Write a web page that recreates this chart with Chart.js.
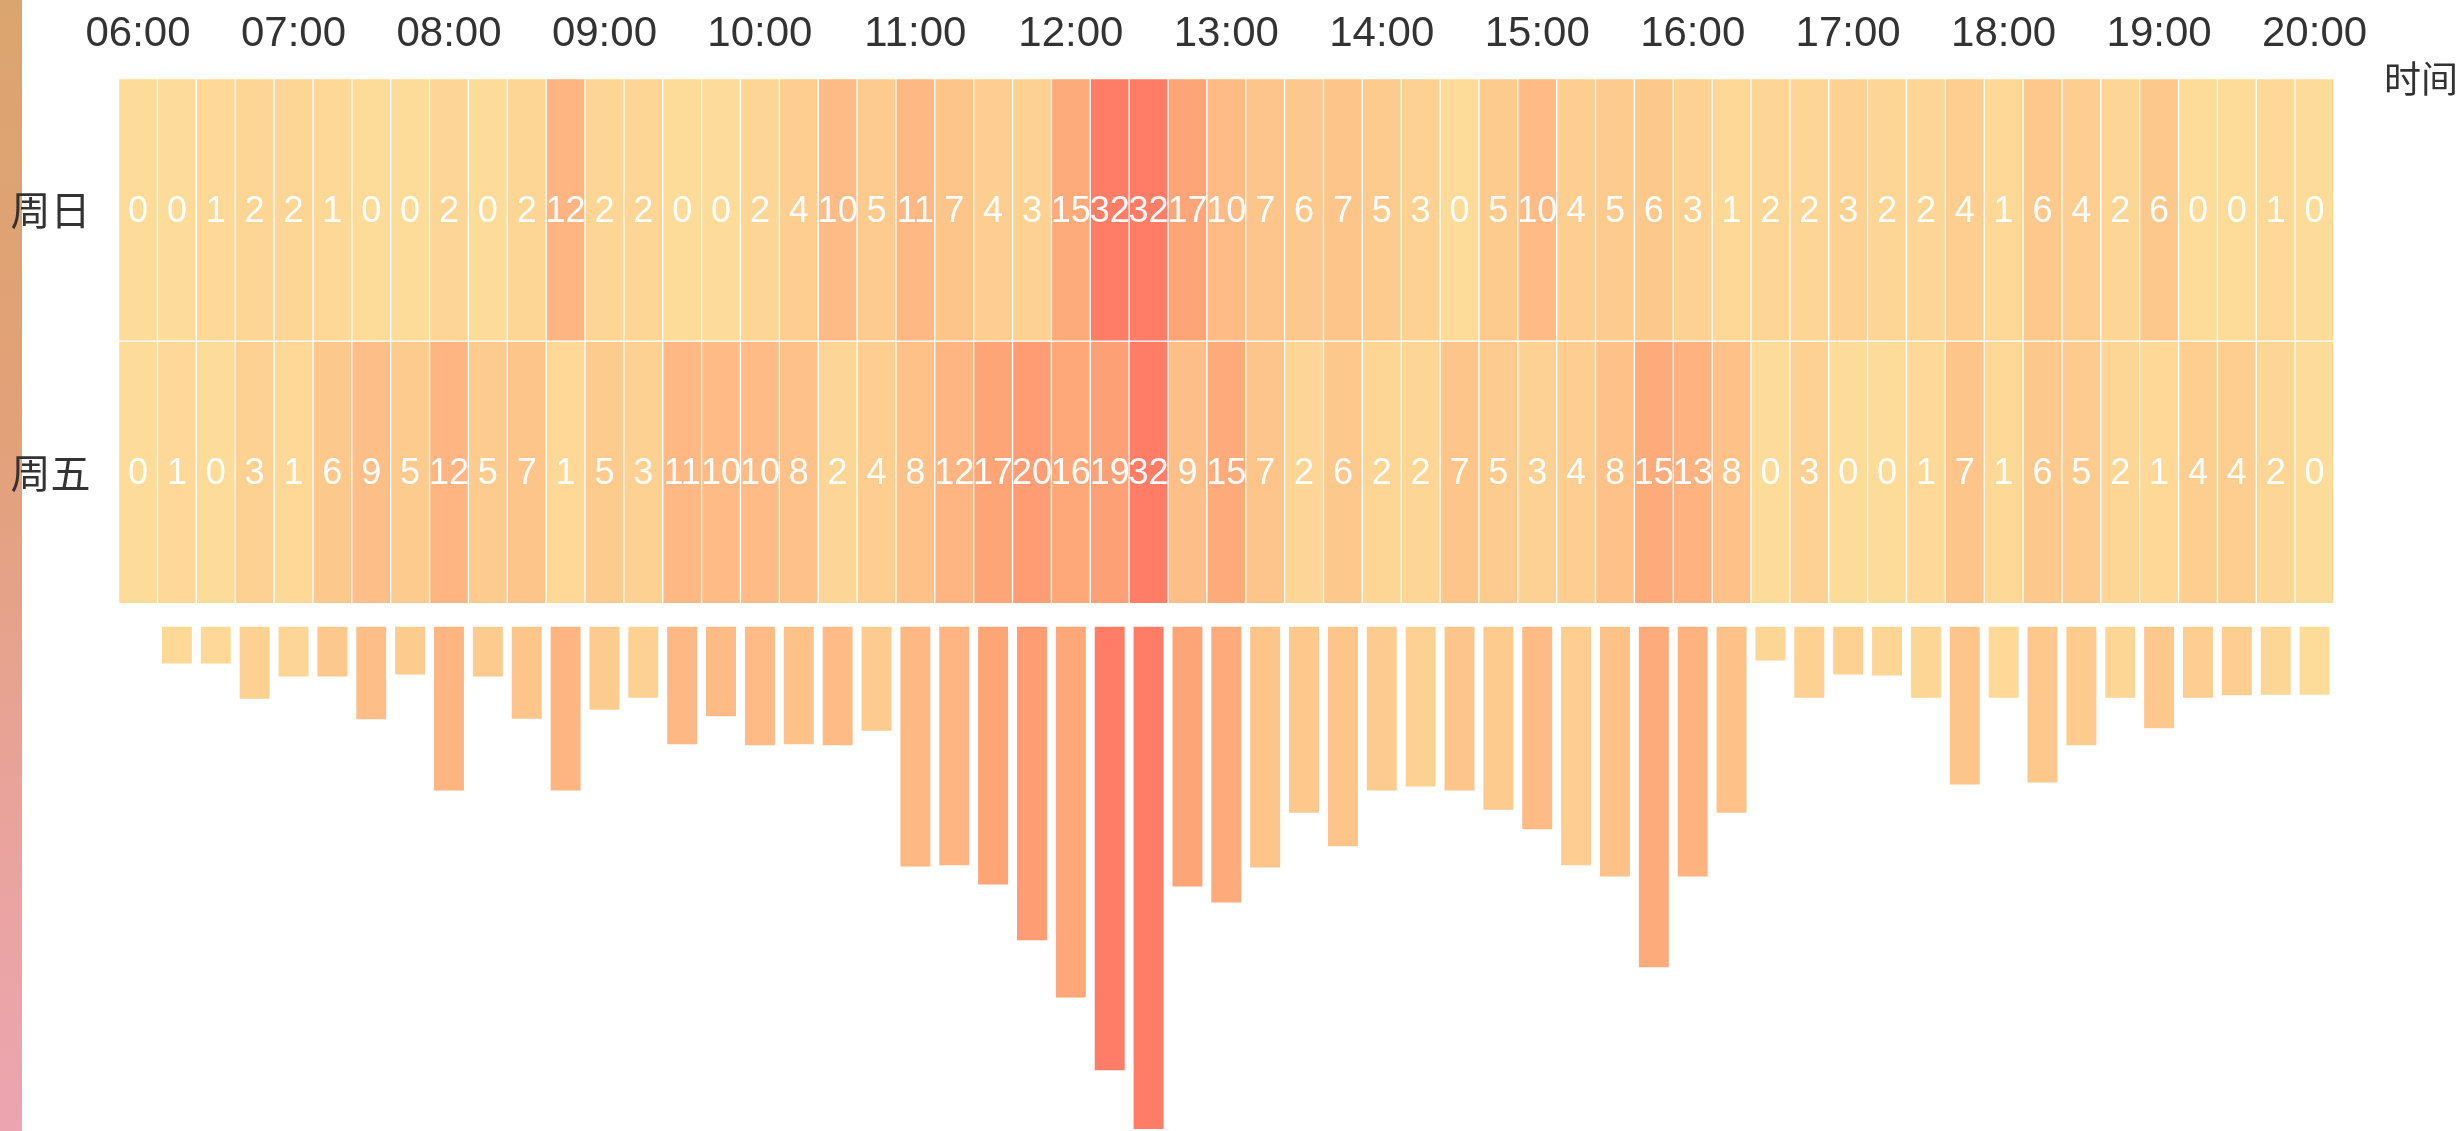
<!DOCTYPE html>
<html lang="zh-CN">
<head>
<meta charset="utf-8">
<title>时段热力图</title>
<script src="https://cdn.jsdelivr.net/npm/chart.js@4.4.1/dist/chart.umd.min.js"></script>
<style>
    html, body { margin: 0; padding: 0; background: #fff; }
    #wrap { position: relative; width: 2463px; height: 1131px; overflow: hidden; }
    #strip {
        position: absolute; left: 0; top: 0; width: 22px; height: 1131px;
        background: linear-gradient(180deg, #dba56f 0%, #e2a176 35%, #e9a39a 70%, #eca5b0 100%);
    }
    #heat { position: absolute; left: 0; top: 0; }
</style>
</head>
<body>
<div id="wrap">
    <div id="strip"></div>
    <canvas id="heat"></canvas>
</div>
<script>
// ================================================================
// DATA
// ================================================================

// 15-minute slots, 06:00 - 20:00
const timeSlots = [
    '06:00', '06:15', '06:30', '06:45', '07:00', '07:15', '07:30', '07:45',
    '08:00', '08:15', '08:30', '08:45', '09:00', '09:15', '09:30', '09:45',
    '10:00', '10:15', '10:30', '10:45', '11:00', '11:15', '11:30', '11:45',
    '12:00', '12:15', '12:30', '12:45', '13:00', '13:15', '13:30', '13:45',
    '14:00', '14:15', '14:30', '14:45', '15:00', '15:15', '15:30', '15:45',
    '16:00', '16:15', '16:30', '16:45', '17:00', '17:15', '17:30', '17:45',
    '18:00', '18:15', '18:30', '18:45', '19:00', '19:15', '19:30', '19:45',
    '20:00'
];

const rowLabels = ['周日', '周五'];

const sundayCounts = [
    0, 0, 1, 2, 2, 1, 0, 0, 2, 0, 2, 12, 2, 2, 0, 0, 2, 4, 10, 5,
    11, 7, 4, 3, 15, 32, 32, 17, 10, 7, 6, 7, 5, 3, 0, 5, 10, 4, 5, 6,
    3, 1, 2, 2, 3, 2, 2, 4, 1, 6, 4, 2, 6, 0, 0, 1, 0
];

const fridayCounts = [
    0, 1, 0, 3, 1, 6, 9, 5, 12, 5, 7, 1, 5, 3, 11, 10, 10, 8, 2, 4,
    8, 12, 17, 20, 16, 19, 32, 9, 15, 7, 2, 6, 2, 2, 7, 5, 3, 4, 8, 15,
    13, 8, 0, 3, 0, 0, 1, 7, 1, 6, 5, 2, 1, 4, 4, 2, 0
];

// hanging bars under the matrix (max = 100)
const barValues = [
    0, 7.3, 7.3, 14.3, 9.9, 9.9, 18.4, 9.5, 32.6, 9.9,
    18.3, 32.6, 16.5, 14.1, 23.4, 17.8, 23.6, 23.4, 23.6, 20.7,
    47.7, 47.5, 51.3, 62.4, 73.8, 88.3, 100, 51.7, 54.9, 47.9,
    37.0, 43.7, 32.6, 31.8, 32.6, 36.4, 40.3, 47.5, 49.7, 67.8,
    49.7, 37.0, 6.7, 14.1, 9.5, 9.7, 14.1, 31.4, 14.1, 31.0,
    23.6, 14.1, 20.2, 14.1, 13.6, 13.5, 13.5
];

const heatRows = [sundayCounts, fridayCounts];

// ================================================================
// COLORS
// ================================================================

const HEAT_STOPS = [
    [0, [253, 219, 152]],
    [16, [254, 168, 121]],
    [32, [255, 125, 102]]
];

function heatColor(v) {
    for (let i = 1; i < HEAT_STOPS.length; i++) {
        const [v0, c0] = HEAT_STOPS[i - 1];
        const [v1, c1] = HEAT_STOPS[i];
        if (v <= v1 || i === HEAT_STOPS.length - 1) {
            const t = Math.max(0, Math.min(1, (v - v0) / (v1 - v0)));
            const c = c0.map((x, k) => Math.round(x + (c1[k] - x) * t));
            return `rgb(${c[0]},${c[1]},${c[2]})`;
        }
    }
}

const LATIN = '"Liberation Sans", Arial, Helvetica, sans-serif';
const CJK = '"Noto Sans CJK SC", "Noto Sans", sans-serif';

// ================================================================
// PLUGIN: numbers in cells + axis name
// ================================================================

const cellLabels = {
    id: 'cellLabels',
    afterDatasetsDraw(chart) {
        const ctx = chart.ctx;
        ctx.save();
        ctx.font = `36px ${LATIN}`;
        ctx.fillStyle = 'rgba(255,255,255,0.96)';
        ctx.textAlign = 'center';
        ctx.textBaseline = 'middle';
        heatRows.forEach((values, di) => {
            const meta = chart.getDatasetMeta(di);
            meta.data.forEach((bar, i) => {
                ctx.fillText(String(values[i]), bar.x, (bar.y + bar.base) / 2 + 2);
            });
        });

        ctx.font = `37px ${CJK}`;
        ctx.fillStyle = '#333';
        ctx.textAlign = 'left';
        ctx.fillText('时间', chart.chartArea.right + 50, chart.chartArea.top);
        ctx.restore();
    }
};

// ================================================================
// CHART
// ================================================================

const cellStyle = {
    type: 'bar',
    yAxisID: 'y',
    grouped: false,
    barPercentage: 1,
    categoryPercentage: 1,
    borderColor: '#fff',
    borderWidth: 1,
    borderSkipped: false
};

new Chart(document.getElementById('heat'), {
    data: {
        labels: timeSlots,
        datasets: [
            {
                ...cellStyle,
                label: rowLabels[0],
                data: sundayCounts.map(() => [0, 1]),
                backgroundColor: sundayCounts.map(heatColor)
            },
            {
                ...cellStyle,
                label: rowLabels[1],
                data: fridayCounts.map(() => [1, 2]),
                backgroundColor: fridayCounts.map(heatColor)
            },
            {
                type: 'bar',
                label: '合计',
                yAxisID: 'y2',
                grouped: false,
                data: barValues,
                barPercentage: 0.77,
                categoryPercentage: 1,
                backgroundColor: sundayCounts.map((v, i) => heatColor(Math.max(v, fridayCounts[i])))
            }
        ]
    },
    options: {
        responsive: true,
        maintainAspectRatio: false,
        animation: false,
        layout: {
            padding: { top: 6, right: 129, bottom: 2, left: 0 }
        },
        plugins: {
            legend: { display: false },
            tooltip: { enabled: false }
        },
        scales: {
            x: {
                type: 'category',
                position: 'top',
                grid: { display: false, drawTicks: false },
                border: { display: false },
                afterFit: function(axis) {
                    axis.height = 72.5;
                },
                ticks: {
                    autoSkip: false,
                    maxRotation: 0,
                    padding: 19,
                    color: '#333',
                    font: { size: 42, family: LATIN },
                    callback: function(value, index) {
                        return index % 4 === 0 ? timeSlots[index] : '';
                    }
                }
            },
            y: {
                type: 'linear',
                reverse: true,
                min: 0,
                max: 4,
                grid: { display: false, drawTicks: false },
                border: { display: false },
                afterBuildTicks: function(axis) {
                    axis.ticks = rowLabels.map((_, i) => ({ value: i + 0.5 }));
                },
                afterFit: function(axis) {
                    axis.width = 118.6;
                    axis.paddingTop = 0;
                    axis.paddingBottom = 0;
                },
                ticks: {
                    padding: 28,
                    color: '#333',
                    font: { size: 40, family: CJK },
                    callback: function(value) {
                        return rowLabels[Math.floor(value)];
                    }
                }
            },
            y2: {
                type: 'linear',
                display: false,
                reverse: true,
                min: -109.2,
                max: 100
            }
        }
    },
    plugins: [cellLabels]
});
</script>
</body>
</html>
